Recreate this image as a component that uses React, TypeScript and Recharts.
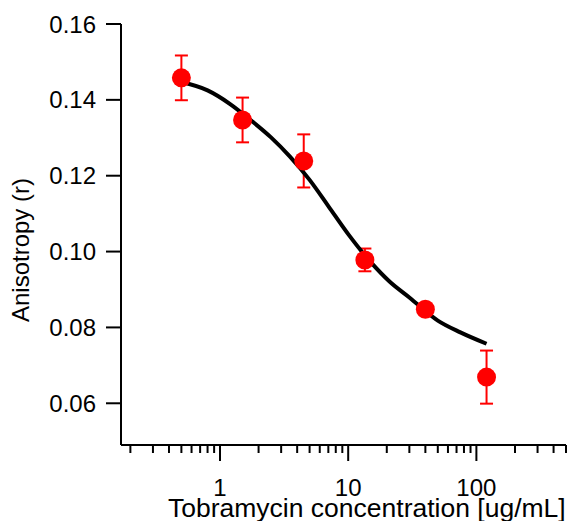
import {
  ComposedChart,
  ErrorBar,
  Line,
  Scatter,
  XAxis,
  YAxis,
} from 'recharts';

// measured anisotropy vs tobramycin concentration
const concX = [0.5, 1.5, 4.5, 13.5, 40, 120];
const anisY = [0.1458, 0.1347, 0.1239, 0.0978, 0.0848, 0.0669];
const anisErr = [0.0059, 0.0059, 0.007, 0.003, 0.0012, 0.007];

// fitted sigmoid
const fitX = [0.5, 0.8, 1.2, 1.7, 2.5, 3.5, 5, 7, 10, 15, 21, 30, 50, 75, 120];
const fitY = [
  0.1447, 0.1425, 0.1389, 0.1349, 0.1301, 0.1251, 0.1189, 0.112, 0.1046, 0.0972,
  0.0921, 0.0879, 0.0818, 0.0787, 0.0757,
];

const yTicks = [0.06, 0.08, 0.1, 0.12, 0.14, 0.16];
const xMajor = [1, 10, 100];
const xTicks = [
  0.2, 0.3, 0.4, 0.5, 0.6, 0.7, 0.8, 0.9, 1, 2, 3, 4, 5, 6, 7, 8, 9, 10, 20, 30,
  40, 50, 60, 70, 80, 90, 100, 200, 300, 400, 500,
];

const points = concX.map((x, i) => ({ x, y: anisY[i], err: anisErr[i] }));
const fit = fitX.map((x, i) => ({ x, y: fitY[i] }));

const FONT = "'Liberation Sans', Arial, sans-serif";

const XTick = (props: any) => {
  const { x, y, payload } = props;
  const v = payload.value;
  const major = xMajor.includes(v);
  return (
    <g>
      <line x1={x} x2={x} y1={y} y2={y + (major ? 16 : 8)} stroke="#000" strokeWidth={2} />
      {major && (
        <text x={x} y={y + 51} textAnchor="middle" fontSize={24} fontFamily={FONT} fill="#000">
          {v}
        </text>
      )}
    </g>
  );
};

const Dot = (props: any) => <circle cx={props.cx} cy={props.cy} r={9.5} fill="#ff0000" />;

export default function App() {
  return (
    <div style={{ position: 'absolute', left: 0, top: 0, background: '#fff' }}>
      <ComposedChart
        width={572}
        height={521}
        margin={{ top: 24, right: 6, bottom: 0, left: 0 }}
      >
        <XAxis
          dataKey="x"
          type="number"
          scale="log"
          domain={[0.169, 500]}
          allowDataOverflow
          ticks={xTicks}
          interval={0}
          tick={<XTick />}
          tickLine={false}
          tickSize={0}
          tickMargin={0}
          height={76}
          stroke="#000"
          strokeWidth={2}
        />
        <YAxis
          type="number"
          domain={[0.049, 0.16]}
          allowDataOverflow
          ticks={yTicks}
          interval={0}
          width={121}
          tickSize={15}
          tickMargin={10}
          tickFormatter={(v: number) => v.toFixed(2)}
          tick={{ fontSize: 24, fill: '#000', fontFamily: FONT }}
          tickLine={{ stroke: '#000', strokeWidth: 2 }}
          stroke="#000"
          strokeWidth={2}
        />
        <Scatter data={points} dataKey="y" shape={<Dot />} isAnimationActive={false}>
          <ErrorBar dataKey="err" direction="y" width={6.5} stroke="#ff0000" strokeWidth={2} />
        </Scatter>
        <Line
          data={fit}
          dataKey="y"
          type="monotone"
          stroke="#000"
          strokeWidth={4}
          dot={false}
          activeDot={false}
          isAnimationActive={false}
        />
        <text
          x={29}
          y={250}
          transform="rotate(-90 29 250)"
          textAnchor="middle"
          fontSize={24}
          fontFamily={FONT}
          fill="#000"
        >
          Anisotropy (r)
        </text>
        <text x={168} y={517} fontSize={26.5} fontFamily={FONT} fill="#000">
          Tobramycin concentration [ug/mL]
        </text>
      </ComposedChart>
    </div>
  );
}
